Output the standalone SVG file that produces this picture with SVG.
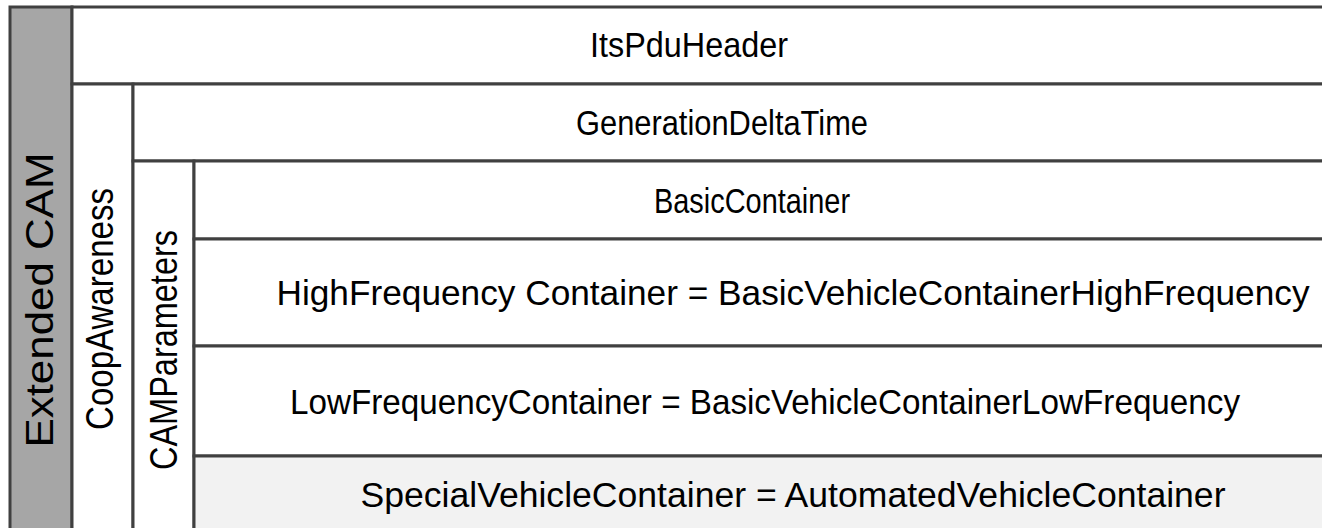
<svg xmlns="http://www.w3.org/2000/svg" width="1322" height="528" viewBox="0 0 1322 528">
  <style>
    .cell { fill: #ffffff; stroke: #404040; stroke-width: 3; }
    .grey { fill: #a6a6a6; }
    .light { fill: #f2f2f2; }
    .lbl { font-family: "Liberation Sans", Arial, sans-serif; font-size: 35px; fill: #000000; text-anchor: middle; }
    .vlbl { font-family: "Liberation Sans", Arial, sans-serif; font-size: 39px; fill: #000000; text-anchor: middle; }
  </style>

  <rect width="1322" height="528" fill="#ffffff"/>

  <!-- Extended CAM: outermost grey band -->
  <g id="extended-cam">
    <rect class="cell grey" x="10" y="7" width="62" height="530"/>
    <text class="vlbl" transform="translate(53 300) rotate(-90)" font-size="41" textLength="295" lengthAdjust="spacingAndGlyphs">Extended CAM</text>
  </g>

  <g id="its-pdu-header">
    <rect class="cell" x="72" y="7" width="1260" height="77"/>
    <text class="lbl" x="689" y="57" textLength="198" lengthAdjust="spacingAndGlyphs">ItsPduHeader</text>
  </g>

  <g id="coop-awareness">
    <rect class="cell" x="72" y="84" width="61" height="453"/>
    <text class="vlbl" transform="translate(113 309) rotate(-90)" textLength="242" lengthAdjust="spacingAndGlyphs">CoopAwareness</text>
  </g>

  <g id="generation-delta-time">
    <rect class="cell" x="133" y="84" width="1199" height="77"/>
    <text class="lbl" x="722" y="135" textLength="292" lengthAdjust="spacingAndGlyphs">GenerationDeltaTime</text>
  </g>

  <g id="cam-parameters">
    <rect class="cell" x="133" y="161" width="61" height="376"/>
    <text class="vlbl" transform="translate(177 350) rotate(-90)" textLength="240" lengthAdjust="spacingAndGlyphs">CAMParameters</text>
  </g>

  <g id="basic-container">
    <rect class="cell" x="194" y="161" width="1138" height="78"/>
    <text class="lbl" x="752" y="213" textLength="196" lengthAdjust="spacingAndGlyphs">BasicContainer</text>
  </g>

  <g id="high-frequency-container">
    <rect class="cell" x="194" y="239" width="1138" height="107"/>
    <text class="lbl" x="793" y="305" textLength="1033" lengthAdjust="spacingAndGlyphs">HighFrequency Container = BasicVehicleContainerHighFrequency</text>
  </g>

  <g id="low-frequency-container">
    <rect class="cell" x="194" y="346" width="1138" height="110"/>
    <text class="lbl" x="765" y="414" textLength="950" lengthAdjust="spacingAndGlyphs">LowFrequencyContainer = BasicVehicleContainerLowFrequency</text>
  </g>

  <g id="special-vehicle-container">
    <rect class="cell light" x="194" y="456" width="1138" height="81"/>
    <text class="lbl" x="793" y="507" textLength="865" lengthAdjust="spacingAndGlyphs">SpecialVehicleContainer = AutomatedVehicleContainer</text>
  </g>

  <!-- no connectors in this layout -->
  <g id="connectors"/>
</svg>
